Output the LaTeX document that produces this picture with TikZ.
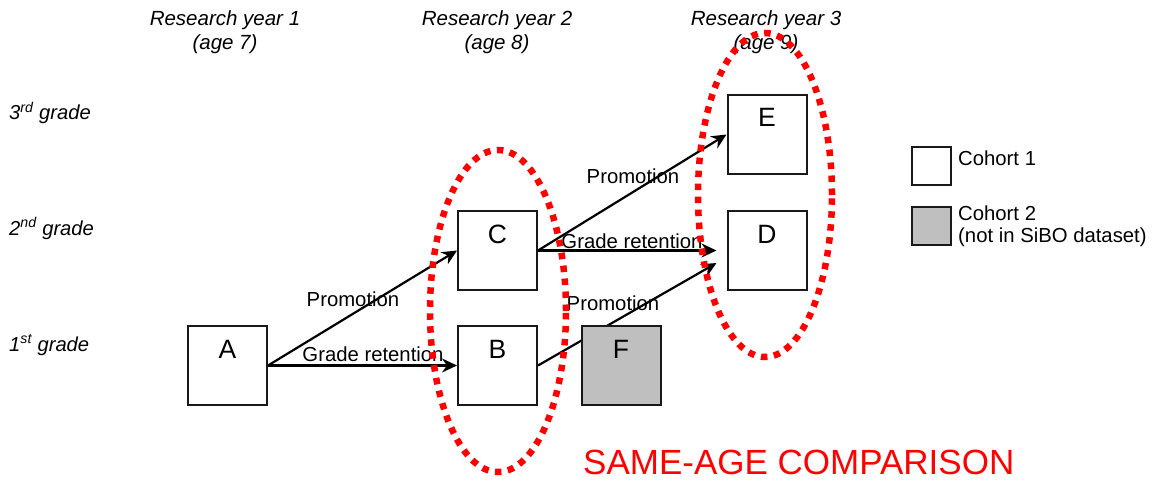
\documentclass[tikz,border=0pt]{standalone}
\usepackage{fontspec}
\setmainfont{Liberation Sans}
\usetikzlibrary{arrows.meta}
\begin{document}
\begin{tikzpicture}[x=1pt,y=-1pt,
  lbl/.style={font=\fontsize{20.3pt}{24pt}\selectfont, inner sep=0pt, anchor=base},
  hdr/.style={font=\fontsize{20.5pt}{24pt}\selectfont\itshape, inner sep=0pt, anchor=base},
  rowlbl/.style={font=\fontsize{20.2pt}{24pt}\selectfont\itshape, inner sep=0pt, anchor=base west},
  stagebox/.style={draw=black!90, line width=2pt, fill=white, minimum width=79pt,
    inner sep=0pt, text height=32pt, text depth=47pt,
    font=\fontsize{26.5pt}{30pt}\selectfont},
  othercohort/.style={stagebox, fill=black!25},
  legbox/.style={draw=black!90, line width=2pt, minimum width=39pt, minimum height=38pt, inner sep=0pt},
  flow/.style={line width=2.2pt, -{Stealth[length=15pt,width=14pt,inset=5pt]}},
  reddots/.style={draw=red, line width=6.5pt, dash pattern=on 6.5pt off 6.5pt, line cap=butt}
]
\useasboundingbox (0,0) rectangle (1158,481);

% column headers
\node[hdr] (y1) at (225,26) {Research year 1};
\node[hdr] (a1) at (225,50) {(age 7)};
\node[hdr] (y2) at (497,26) {Research year 2};
\node[hdr] (a2) at (497,50) {(age 8)};
\node[hdr] (y3) at (766,26) {Research year 3};
\node[hdr] (a3) at (766,50) {(age 9)};

% grade rows
\node[rowlbl] (g3) at (9,120) {3\textsuperscript{rd} grade};
\node[rowlbl] (g2) at (9,235) {2\textsuperscript{nd} grade};
\node[rowlbl] (g1) at (9,351) {1\textsuperscript{st} grade};

% cohort 1 stages
\node[stagebox] (A) at (227.5,365.5) {A};
\node[stagebox] (B) at (497.5,365.5) {B};
\node[stagebox] (C) at (497.5,250.5) {C};
\node[stagebox] (D) at (767,250.5) {D};
\node[stagebox] (E) at (767,134.5) {E};

% transitions
\draw[flow] (A.east) -- (B.west);
\draw[flow] (A.east) -- (C.west);
\draw[flow] (C.east) -- (E.west);
\draw[flow] (C.east) -- ([xshift=-10pt]D.west);
\draw[flow] (B.east) -- ([xshift=-10pt,yshift=-12.5pt]D.west);

% cohort 2
\node[othercohort] (F) at (621,365.5) {F};

% transition labels
\node[lbl] (pAC) at (353,306) {Promotion};
\node[lbl] (rAB) at (373,361) {Grade retention};
\node[lbl] (pCE) at (633,183) {Promotion};
\node[lbl] (rCD) at (632,248) {Grade retention};
\node[lbl] (pBD) at (613,310) {Promotion};

% same-age groups
\draw[reddots] (498,311) ellipse [x radius=68pt, y radius=161pt];
\draw[reddots] (765,195) ellipse [x radius=67pt, y radius=162pt];

\node[font=\fontsize{35pt}{40pt}\selectfont, text=red, inner sep=0pt, anchor=base west] (same) at (583,474) {SAME-AGE COMPARISON};

% legend
\node[legbox] (k1) at (931.5,166) {};
\node[legbox, fill=black!25] (k2) at (931.5,226) {};
\node[lbl, anchor=base west] (k1t) at (958,166) {Cohort 1};
\node[lbl, anchor=base west] (k2t) at (958,220) {Cohort 2};
\node[lbl, anchor=base west] (k2s) at (958,242) {(not in SiBO dataset)};
\end{tikzpicture}
\end{document}
